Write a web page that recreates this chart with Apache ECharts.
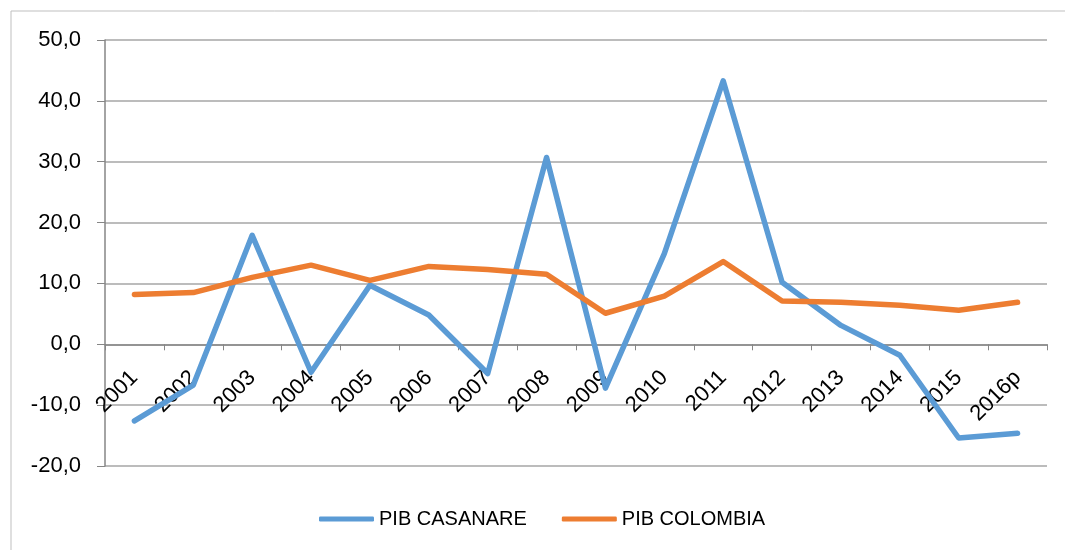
<!DOCTYPE html>
<html>
<head>
<meta charset="utf-8">
<title>PIB Casanare vs Colombia</title>
<script src="https://cdn.jsdelivr.net/npm/echarts@6/dist/echarts.min.js"></script>
<style>
  html, body { margin: 0; padding: 0; background: #fff; }
</style>
</head>
<body>
<div id="main" style="width:1065px;height:550px;"></div>
<script>
// categorias y series
var years = ['2001', '2002', '2003', '2004', '2005', '2006', '2007', '2008',
             '2009', '2010', '2011', '2012', '2013', '2014', '2015', '2016p'];
var pibCasanare = [-12.6, -6.7, 17.9, -4.6, 9.7, 4.8, -4.8, 30.7,
                   -7.2, 14.9, 43.3, 10.2, 3.1, -1.8, -15.4, -14.6];
var pibColombia = [8.2, 8.5, 11.0, 13.0, 10.5, 12.8, 12.3, 11.5,
                   5.1, 7.9, 13.6, 7.1, 6.9, 6.4, 5.6, 6.9];

var chart = echarts.init(document.getElementById('main'));
var font = 'Liberation Sans, Arial, sans-serif';

// grid: top 40, bottom 84 -> alto 426 px para 70 unidades; el cero queda 122 px sobre el borde inferior
var gridTop = 40, gridBottom = 84;
var plotH = 550 - gridTop - gridBottom;
var zeroOffset = plotH * (0 - (-20)) / 70;

var option = {
    animation: false,
    textStyle: { fontFamily: font },
    graphic: [{
        type: 'rect',
        shape: { x: 11, y: 11, width: 1200, height: 700 },
        style: { fill: 'none', stroke: '#bfbfbf', lineWidth: 1 },
        silent: true
    }],
    grid: { left: 105, right: 18, top: gridTop, bottom: gridBottom },
    legend: {
        bottom: 16,
        left: 314,
        itemWidth: 55,
        itemHeight: 5,
        itemGap: 35,
        icon: 'roundRect',
        textStyle: { fontSize: 20, color: '#000', fontFamily: font },
        data: ['PIB CASANARE', 'PIB COLOMBIA']
    },
    xAxis: [{
        type: 'category',
        data: years,
        boundaryGap: true,
        axisLine: { onZero: true, lineStyle: { color: '#868686', width: 1.5 } },
        axisTick: { show: true, inside: false, length: 6, alignWithLabel: false,
                    lineStyle: { color: '#868686' } },
        axisLabel: { show: false },
        splitLine: { show: false }
    }, {
        // eje solo para las etiquetas, subido hasta la linea del cero
        type: 'category',
        data: years,
        position: 'bottom',
        offset: -zeroOffset,
        boundaryGap: true,
        axisLine: { show: false, onZero: false },
        axisTick: { show: false },
        axisLabel: { rotate: 45, margin: 30, fontSize: 22, color: '#000',
                     interval: 0, fontFamily: font },
        splitLine: { show: false }
    }],
    yAxis: {
        type: 'value',
        min: -20,
        max: 50,
        interval: 10,
        axisLine: { show: true, lineStyle: { color: '#868686', width: 1.5 } },
        axisTick: { show: true, length: 8, lineStyle: { color: '#868686' } },
        axisLabel: {
            fontSize: 22, color: '#000', margin: 24, fontFamily: font,
            formatter: function (v) { return v.toFixed(1).replace('.', ','); }
        },
        splitLine: { show: true, lineStyle: { color: '#a6a6a6', width: 1.5 } }
    },
    series: [{
        name: 'PIB CASANARE',
        type: 'line',
        data: pibCasanare,
        showSymbol: false,
        symbol: 'none',
        lineStyle: { color: '#5b9bd5', width: 5.5, cap: 'round', join: 'round' },
        itemStyle: { color: '#5b9bd5' }
    }, {
        name: 'PIB COLOMBIA',
        type: 'line',
        data: pibColombia,
        showSymbol: false,
        symbol: 'none',
        lineStyle: { color: '#ed7d31', width: 5.5, cap: 'round', join: 'round' },
        itemStyle: { color: '#ed7d31' }
    }]
};

chart.setOption(option);
</script>
</body>
</html>
